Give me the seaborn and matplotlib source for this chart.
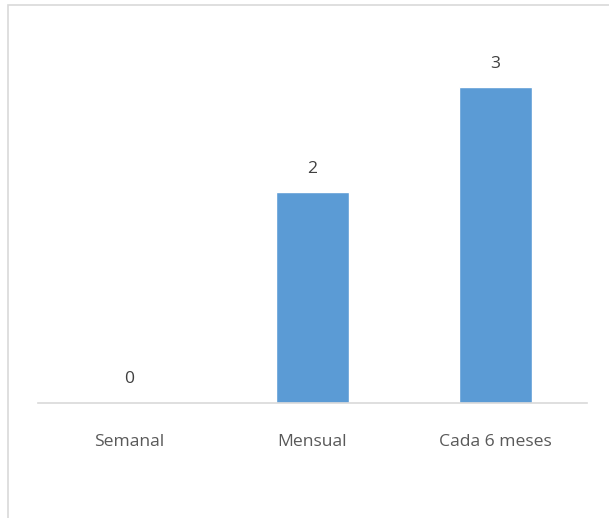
import matplotlib
matplotlib.use("Agg")
import matplotlib.pyplot as plt
import matplotlib.patches as mpatches
import seaborn as sns
import pandas as pd

categories = ["Semanal", "Mensual", "Cada 6 meses"]
values = [0, 2, 3]

sns.set_theme(style="white")
plt.rcParams["font.family"] = ["Open Sans", "DejaVu Sans"]

df = pd.DataFrame({"categoria": categories, "valor": values})

fig = plt.figure(figsize=(6.09, 5.18), dpi=100)
ax = fig.add_axes([38 / 609, (518 - 403) / 518, (587 - 38) / 609, (403 - 34.5) / 518])

sns.barplot(data=df, x="categoria", y="valor", color="#5B9BD5", width=0.4,
            saturation=1, ax=ax)

ax.set_ylim(0, 3.5)
ax.set_xlim(-0.5, len(categories) - 0.5)
ax.set_xlabel("")
ax.set_ylabel("")
ax.set_yticks([])
for side in ["top", "right", "left"]:
    ax.spines[side].set_visible(False)
ax.spines["bottom"].set_color("#D9D9D9")
ax.spines["bottom"].set_linewidth(1.2)
ax.tick_params(axis="x", length=0, pad=22, labelsize=12.6, labelcolor="#595959")

for i, v in enumerate(values):
    ax.annotate(str(v), xy=(i, v), xytext=(0, 17), textcoords="offset points",
                ha="center", va="center", fontsize=12.6, color="#404040")

# chart frame
fig.patches.append(mpatches.Rectangle((7.5 / 609, -0.1), 1.2, (518 - 4.5) / 518 + 0.1,
                                      transform=fig.transFigure, fill=False,
                                      edgecolor="#D9D9D9", linewidth=1.2))

fig.savefig("out.png", dpi=100)
